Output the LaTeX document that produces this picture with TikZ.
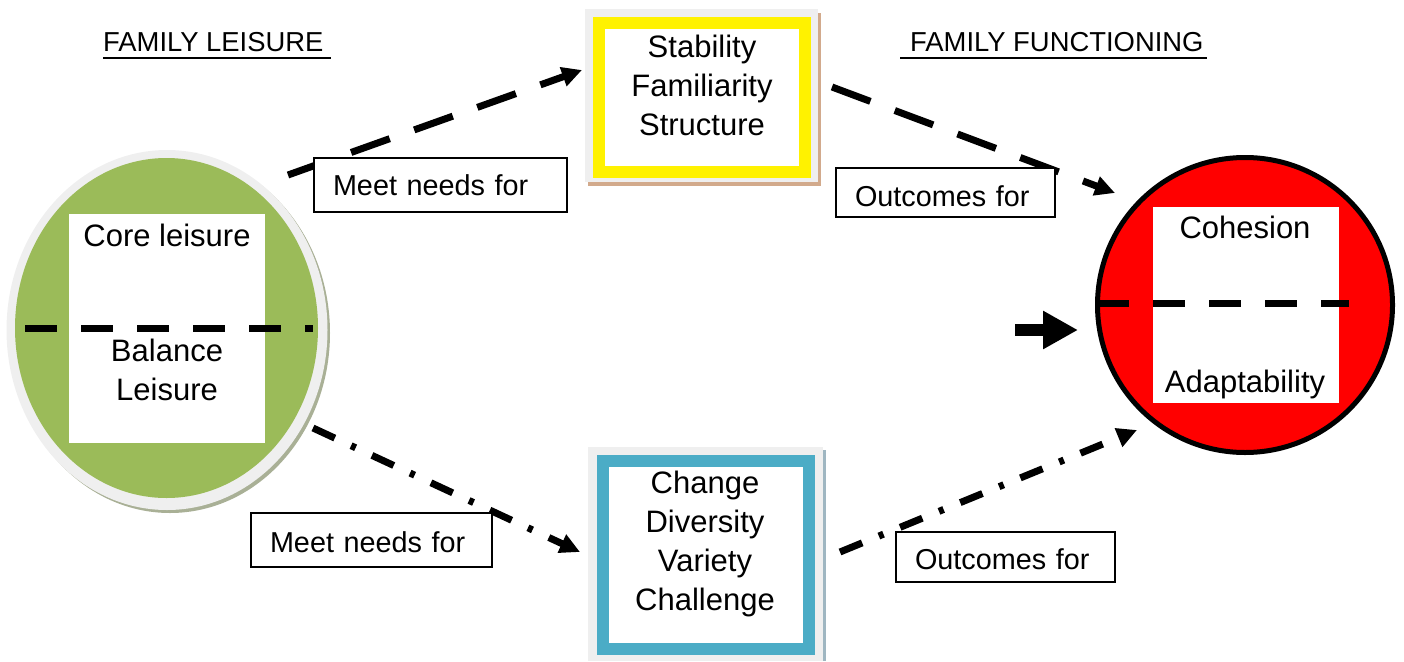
\documentclass[tikz,border=0pt]{standalone}
\usepackage{fontspec}
\setmainfont{Liberation Sans}
\usetikzlibrary{arrows.meta,shapes.geometric}
\definecolor{leafgreen}{HTML}{9BBB59}
\definecolor{rimgrey}{HTML}{EFEFEF}
\definecolor{shadowgreen}{HTML}{A9B096}
\definecolor{tanshadow}{HTML}{D2AA8C}
\definecolor{skyblue}{HTML}{4BACC6}
\definecolor{blueshadow}{HTML}{9FB6C1}
\tikzset{
  labelbox/.style={draw=black, line width=2pt, fill=white, align=left,
    inner xsep=19pt, inner ysep=0pt, font=\fontsize{28.8}{34}\selectfont},
  boxtext/.style={font=\fontsize{31}{39}\selectfont, align=center, anchor=base, inner sep=0pt},
  titletext/.style={font=\fontsize{27.4}{32}\selectfont, anchor=base west, inner sep=0pt},
  dasharrow/.style={line width=7pt, dash pattern=on 41pt off 26pt,
    -{Triangle[length=20pt,width=19pt]}},
  dotarrow/.style={line width=7pt, dash pattern=on 24pt off 18pt on 5pt off 18pt,
    -{Triangle[length=20pt,width=19pt]}},
  splitline/.style={line width=7pt, dash pattern=on 32pt off 24pt},
  framebox/.style={fill=white, inner sep=0pt, line width=12pt}
}
\begin{document}
\begin{tikzpicture}[x=1pt,y=-1pt]
\useasboundingbox (0,0) rectangle (1404,661);

% titles
\node[titletext] (tleft) at (103,52) {FAMILY LEISURE};
\draw[line width=2pt] (103,58.5) -- (331,58.5);
\node[titletext] (tright) at (910,52) {FAMILY FUNCTIONING};
\draw[line width=2pt] (900,58.5) -- (1207,58.5);

% green ellipse (family leisure)
\fill[shadowgreen] (170,333) ellipse [x radius=160, y radius=180];
\node[ellipse, fill=rimgrey, minimum width=321pt, minimum height=360pt, inner sep=0pt] (leisure) at (167,330) {};
\fill[leafgreen] (166.5,328) ellipse [x radius=151.5, y radius=170];
\node[fill=white, minimum width=196pt, minimum height=229pt, inner sep=0pt] (leisurebox) at (167,328.5) {};
\node[boxtext] (core) at (167,246) {Core leisure};
\node[boxtext] (balance) at (167,400) {Balance\\Leisure};
\draw[splitline] (25,328) -- (313,328);

% yellow box
\fill[tanshadow] (588,13) rectangle (821,186);
\fill[rimgrey] (585,9) rectangle (818,182);
\node[framebox, draw=yellow, minimum width=206pt, minimum height=149pt] (stable) at (702,97.5) {};
\node[boxtext] (stabletext) at (702,135) {Stability\\Familiarity\\Structure};

% blue box
\fill[blueshadow] (588,450) rectangle (826,661);
\fill[rimgrey] (588,447) rectangle (823,661);
\node[framebox, draw=skyblue, minimum width=206pt, minimum height=188pt] (change) at (706,555) {};
\node[boxtext] (changetext) at (705,610) {Change\\Diversity\\Variety\\Challenge};

% red circle (family functioning)
\node[circle, draw=black, line width=5pt, fill=red, minimum size=295pt, inner sep=0pt] (func) at (1245,305) {};
\node[fill=white, minimum width=186pt, minimum height=196pt, inner sep=0pt] (funcbox) at (1246,305) {};
\node[boxtext] (cohesion) at (1245,238) {Cohesion};
\node[boxtext] (adapt) at (1245,392) {Adaptability};
\draw[splitline, dash phase=3pt] (1100,303) -- (1349,303);

% thick arrow into circle
\coordinate (fa) at (1015,330);
\coordinate (fb) at (1078,330);
\draw[line width=12pt, -{Triangle[length=35pt,width=36pt]}] (fa) -- (fb);

% connectors
\coordinate (a1s) at (288,175);
\coordinate (a1e) at (582,70);
\coordinate (a2s) at (832,87);
\coordinate (a2e) at (1115,193);
\coordinate (a3s) at (313,428);
\coordinate (a3e) at (580,552);
\coordinate (a4s) at (840,552);
\coordinate (a4e) at (1137,430);
\draw[dasharrow] (a1s) -- (a1e);
\draw[dasharrow] (a2s) -- (a2e);
\draw[dotarrow] (a3s) -- (a3e);
\draw[dotarrow] (a4s) -- (a4e);

% label boxes
\node[labelbox, text width=215pt, minimum height=54pt] (meet1) at (440.5,185) {Meet needs for};
\node[labelbox, text width=203pt, minimum height=54pt, text height=25pt, text depth=0pt] (meet2) at (371.5,540) {Meet needs for};
\node[labelbox, text width=181pt, minimum height=49pt, text height=28pt, text depth=0pt] (out1) at (945.5,192.5) {Outcomes for};
\node[labelbox, text width=181pt, minimum height=50pt, text height=25pt, text depth=0pt] (out2) at (1005.5,557) {Outcomes for};
\end{tikzpicture}
\end{document}
